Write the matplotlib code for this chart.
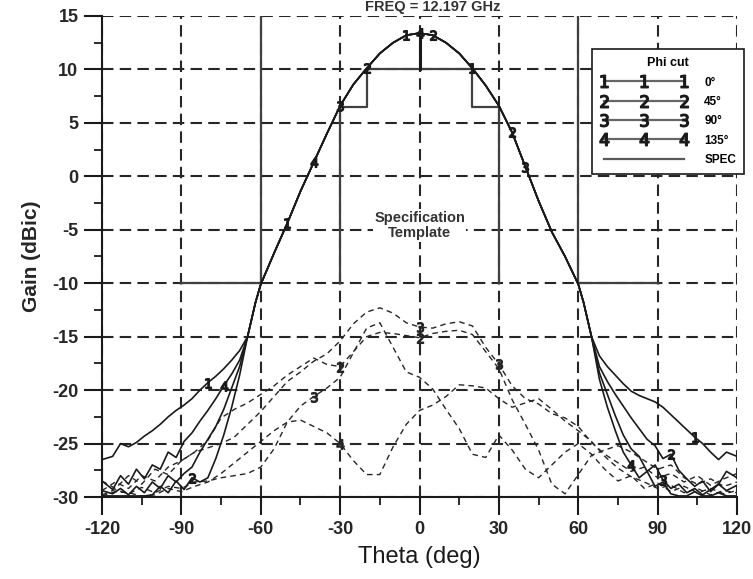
import numpy as np
import matplotlib.pyplot as plt
from matplotlib.lines import Line2D
from matplotlib.ticker import MultipleLocator

plt.rcParams['font.family'] = ['Liberation Sans', 'DejaVu Sans']
plt.rcParams['axes.unicode_minus'] = False

# main beam (all four phi cuts lie on top of each other here)
beam_theta = [-62, -60, -55, -50, -45, -40, -35, -30, -25, -20, -15, -10, -5, 0,
              5, 10, 15, 20, 25, 30, 35, 40, 45, 50, 55, 60, 62]
beam_gain = [-11.8, -10.1, -7.2, -4.4, -1.4, 1.3, 4.0, 6.6, 8.6, 10.1, 11.5, 12.5, 13.2, 13.4,
             13.2, 12.5, 11.5, 10.1, 8.5, 6.6, 4.1, 0.9, -2.3, -5.2, -7.5, -10.1, -11.8]

# far-out sidelobe region, |theta| from 65 to 120
tail_theta = [65, 68, 71, 74, 77, 80, 83, 86, 89, 92, 95, 98, 101, 104, 107, 110, 113, 116, 120]

cut1_left = [-15, -16.3, -17.2, -18.0, -18.7, -19.3, -20.0, -20.8, -21.4, -21.9, -22.5, -23.2,
             -23.8, -24.3, -24.9, -25.3, -25.0, -26.2, -26.5]
cut1_right = [-15, -16.8, -17.8, -18.6, -19.4, -20.1, -20.5, -20.8, -21.1, -21.6, -22.3, -23.0,
              -23.7, -24.4, -25.0, -25.8, -26.5, -25.8, -26.2]
cut2_left = [-15, -18.6, -21.6, -24.2, -26.4, -28.2, -28.6, -28.2, -29.3, -28.5, -29.6, -29.0,
             -29.8, -29.9, -29.9, -29.9, -29.9, -29.9, -29.9]
cut2_right = [-15, -17.8, -19.2, -20.4, -21.5, -22.6, -23.6, -24.6, -25.2, -26.4, -26.0, -27.5,
              -28.3, -29.0, -28.5, -29.5, -28.8, -27.6, -28.2]
cut3_left = [-15, -17.8, -19.8, -21.8, -23.4, -24.6, -25.8, -27.2, -27.8, -28.6, -28.0, -29.2,
             -28.6, -29.6, -29.0, -29.8, -29.2, -29.7, -29.4]
cut3_right = [-15, -18.4, -20.4, -22.4, -24.2, -25.5, -26.2, -27.6, -27.0, -28.4, -29.2, -28.8,
              -29.6, -29.2, -29.8, -29.3, -28.8, -29.4, -28.9]
cut4_left = [-15, -17.2, -18.5, -19.6, -20.8, -21.9, -22.9, -24.0, -24.8, -26.3, -25.8, -27.4,
             -27.0, -28.3, -27.4, -28.8, -28.0, -29.3, -28.5]
cut4_right = [-15, -19.0, -21.6, -23.8, -25.8, -27.0, -28.2, -27.6, -29.0, -28.6, -29.7, -29.9,
              -29.9, -29.5, -29.9, -29.9, -29.6, -29.9, -29.9]

# cross-pol (dashed) curves
xp_theta = [-120, -115, -110, -105, -100, -95, -90, -85, -80, -75, -70, -65, -60, -55, -50,
            -45, -40, -35, -30, -25, -20, -15, -10, -5, 0, 5, 10, 15, 20, 25, 30, 35, 40,
            45, 50, 55, 60, 65, 70, 75, 80, 85, 90, 95, 100, 105, 110, 115, 120]
xp1 = [-29.4, -28.6, -29.2, -28.0, -28.5, -27.2, -26.6, -25.8, -25.4, -25.0, -24.4, -23.2,
       -22.0, -20.6, -19.2, -18.3, -17.3, -16.6, -15.4, -13.8, -12.7, -12.3, -12.8, -13.7,
       -14.1, -14.2, -13.8, -13.6, -14.0, -16.0, -17.6, -19.6, -20.8, -21.3, -22.2, -22.6,
       -23.4, -24.9, -26.0, -26.8, -27.6, -27.2, -28.2, -27.8, -28.6, -28.0, -28.9, -28.3, -27.8]
xp2 = [-28.5, -29.2, -28.0, -28.8, -27.4, -27.9, -26.6, -25.8, -24.7, -22.6, -21.8, -21.2,
       -20.4, -19.6, -18.6, -17.8, -17.0, -17.6, -17.8, -16.4, -15.0, -14.6, -14.7, -14.9,
       -15.1, -14.7, -14.5, -14.4, -14.8, -16.4, -18.0, -20.9, -23.2, -25.6, -28.8, -29.7,
       -27.9, -26.1, -25.6, -25.2, -25.8, -26.6, -27.4, -27.0, -28.2, -28.8, -28.3, -29.0, -28.6]
xp3 = [-29.8, -29.3, -29.7, -29.1, -29.6, -29.0, -29.2, -28.6, -28.5, -28.2, -28.0, -27.8,
       -27.2, -25.5, -23.0, -21.5, -20.6, -19.8, -18.8, -16.5, -14.2, -13.7, -16.0, -18.3,
       -18.8, -19.9, -21.8, -23.6, -26.0, -26.3, -24.2, -25.6, -27.4, -28.2, -27.0, -25.8,
       -25.0, -26.0, -27.4, -28.5, -28.0, -29.2, -28.7, -29.5, -29.0, -29.6, -29.2, -29.7, -29.4]
xp4 = [-29.9, -29.5, -29.6, -29.9, -29.8, -29.2, -29.5, -29.0, -28.6, -27.8, -26.8, -25.8,
       -24.8, -23.8, -23.0, -22.8, -23.4, -24.0, -25.0, -26.6, -27.9, -27.9, -25.3, -23.2,
       -21.9, -21.4, -20.6, -19.5, -19.6, -19.8, -20.8, -21.6, -21.2, -20.8, -21.8, -22.9,
       -23.8, -24.8, -26.2, -27.3, -28.1, -28.6, -29.2, -28.9, -29.6, -29.2, -29.8, -29.4, -29.6]

# specification template
spec_left_x, spec_left_y = [-90, -60, -60], [-10, -10, 15]
spec_right_x, spec_right_y = [60, 60, 90], [15, -10, -10]
spec_in_x = [-30, -30, -20, -20, 20, 20, 30, 30]
spec_in_y = [-10, 6.5, 6.5, 10, 10, 6.5, 6.5, -10]
spec_mid_x, spec_mid_y = [0, 0], [10, 13.4]

cut_labels = ['0°', '45°', '90°', '135°']
cut_tags = ['1', '2', '3', '4']
cut_tails = [(cut1_left, cut1_right), (cut2_left, cut2_right),
             (cut3_left, cut3_right), (cut4_left, cut4_right)]
cut_marks = [[-80, -50, -5, 20, 104], [-86, -20, 5, 35, 95], [-30, 40, 92], [-74, -40, 0, 80]]
xp_curves = [xp1, xp2, xp3, xp4]
xp_tags = ['3', '2', '3', '4']
xp_marks = [[0, 30], [-30, 0], [-40], [-30]]

fig = plt.figure(figsize=(7.53, 5.79), dpi=100)
ax = fig.add_axes([0.1355, 0.1416, 0.8433, 0.8308])

ink = '#1a1a1a'

# cross-pol
for vals, tag, marks in zip(xp_curves, xp_tags, xp_marks):
    th = np.array(xp_theta)
    idx = [int(np.argmin(np.abs(th - m))) for m in marks]
    ax.plot(th, vals, color='0.15', lw=1.0, dashes=(4, 3), marker=f'${tag}$',
            markersize=7, markevery=idx, zorder=3)

# co-pol cuts
for (left, right), tag, marks in zip(cut_tails, cut_tags, cut_marks):
    th = np.concatenate([-np.array(tail_theta[::-1]), beam_theta, tail_theta])
    g = np.concatenate([left[::-1], beam_gain, right])
    idx = [int(np.argmin(np.abs(th - m))) for m in marks]
    ax.plot(th, g, color=ink, lw=1.2, marker=f'${tag}$', markersize=7,
            markevery=idx, zorder=4)

spec_kw = dict(color='0.25', lw=1.6, zorder=3)
ax.plot(spec_left_x, spec_left_y, **spec_kw)
ax.plot(spec_right_x, spec_right_y, **spec_kw)
ax.plot(spec_in_x, spec_in_y, **spec_kw)
ax.plot(spec_mid_x, spec_mid_y, color=ink, lw=2.2, zorder=3)

ax.text(0, -4.6, 'Specification\nTemplate', ha='center', va='center', fontsize=10.5,
        fontweight='bold', color='0.2', linespacing=1.1,
        bbox=dict(facecolor='white', edgecolor='none', pad=1), zorder=5)

ax.set_xlim(-120, 120)
ax.set_ylim(-30, 15)
ax.xaxis.set_major_locator(MultipleLocator(30))
ax.xaxis.set_minor_locator(MultipleLocator(15))
ax.yaxis.set_major_locator(MultipleLocator(5))
ax.yaxis.set_minor_locator(MultipleLocator(2.5))
ax.grid(True, which='major', color='0.15', lw=1.5, dashes=(5.5, 3))
ax.set_axisbelow(True)

for s in ['top', 'right']:
    ax.spines[s].set_visible(False)
for s in ['left', 'bottom']:
    ax.spines[s].set_linewidth(1.5)
    ax.spines[s].set_color(ink)

ax.tick_params(axis='both', which='major', direction='out', length=13, width=1.5,
               color=ink, labelsize=13, pad=4)
ax.tick_params(axis='both', which='minor', direction='out', length=6, width=1.3, color=ink)
for lab in ax.get_xticklabels() + ax.get_yticklabels():
    lab.set_fontweight('bold')
    lab.set_color('0.15')

ax.set_xlabel('Theta (deg)', fontsize=17, color='0.1', labelpad=6)
ax.set_ylabel('Gain (dBic)', fontsize=15, fontweight='bold', color='0.15', labelpad=8)

# frequency title squeezed into the strip above the plot
fig.text(0.575, 1 - 11 / 579, 'FREQ = 12.197 GHz', ha='center', va='baseline',
         fontsize=10.5, fontweight='bold', color='0.2')

# legend
handles = []
for tag in cut_tags:
    handles.append(Line2D([], [], color='0.4', lw=1.6, marker=f'${tag}$', markersize=9,
                          markerfacecolor=ink, markeredgecolor=ink))
handles.append(Line2D([], [], color='0.35', lw=1.6))
leg = ax.legend(handles, cut_labels + ['SPEC'], title='Phi cut', loc='upper left',
                bbox_to_anchor=(592 / 753, 1 - 49 / 579), bbox_transform=fig.transFigure,
                numpoints=3, fontsize=8.5, title_fontsize=9, handlelength=7.4,
                handletextpad=1.4, labelspacing=0.62, borderpad=0.7, borderaxespad=0,
                fancybox=False, framealpha=1, edgecolor=ink)
leg.get_title().set_fontweight('bold')
for t in leg.get_texts():
    t.set_fontweight('bold')
leg.get_frame().set_linewidth(1.2)
leg.set_zorder(6)

fig.savefig('out.png', dpi=100)
